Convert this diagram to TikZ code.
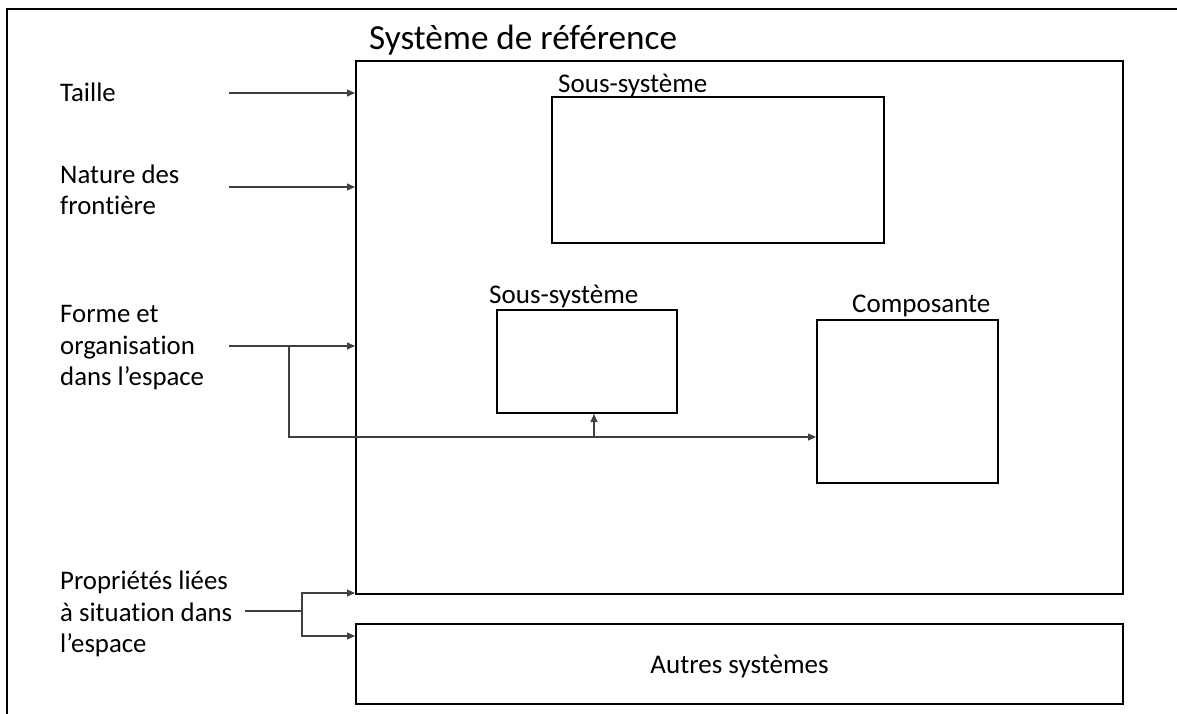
\documentclass[tikz,border=0pt]{standalone}
\usepackage{fontspec}
\setmainfont{Carlito}[Ligatures=NoCommon]
\usetikzlibrary{arrows.meta}
\tikzset{
  box/.style={draw=black, line width=2pt, inner sep=0pt, anchor=north west},
  conn/.style={draw=black!75, line width=1.1pt},
  arrowtip/.style={-{Triangle[length=8pt,width=7pt]}},
  lbl/.style={inner sep=0pt, align=left, font=\fontsize{26.8}{31.5}\selectfont},
  captxt/.style={inner sep=0pt, anchor=base west, font=\fontsize{27}{31}\selectfont},
}
\begin{document}
\begin{tikzpicture}[x=1pt,y=-1pt]
\useasboundingbox (0,0) rectangle (1177,713);
\fill[white] (0,0) rectangle (1177,713);
% outer frame (cropped)
\draw[line width=2pt] (7,760) -- (7,9) -- (1230,9);

% boxes
\node[box, minimum width=767pt, minimum height=533pt] (ref) at (355,60) {};
\node[box, minimum width=767pt, minimum height=80pt] (autres) at (355,623) {};
\node[box, minimum width=332pt, minimum height=146pt] (ss1) at (551,96) {};
\node[box, minimum width=180pt, minimum height=103pt] (ss2) at (496,309) {};
\node[box, minimum width=181pt, minimum height=163pt] (comp) at (816,319) {};

% captions
\node[inner sep=0pt, anchor=base west, font=\fontsize{35.2}{40}\selectfont] (tref) at (369,49) {Système de référence};
\node[captxt] (tss1) at (558,92) {Sous-système};
\node[captxt] (tss2) at (489,303) {Sous-système};
\node[captxt] (tcomp) at (852,312) {Composante};
\node[inner sep=0pt, anchor=base, font=\fontsize{27}{31}\selectfont] (tautres) at ([yshift=-9pt]autres.center) {Autres systèmes};

% left labels
\node[lbl, anchor=base west] (ltaille) at (60,101) {Taille};
\node[lbl, anchor=west] (lnature) at (60,190) {Nature des\\frontière};
\node[lbl, anchor=west] (lforme) at (60,348) {Forme et\\organisation\\dans l’espace};
\node[lbl, anchor=west] (lprop) at (60,614) {Propriétés liées\\à situation dans\\l’espace};

% connectors
\coordinate (a1) at (229,93);
\coordinate (a2) at (229,187);
\coordinate (a3) at (229,346);
\coordinate (b3) at (289,346);
\coordinate (c3) at (289,437);
\coordinate (d3) at (594,437);
\coordinate (p0) at (245,611);
\coordinate (p1) at (302,611);
\coordinate (p2) at (302,593);
\coordinate (p3) at (302,636);

\draw[conn, arrowtip] (a1) -- (a1 -| ref.west);
\draw[conn, arrowtip] (a2) -- (a2 -| ref.west);
\draw[conn, arrowtip] (a3) -- (a3 -| ref.west);
\draw[conn, arrowtip] (b3) -- (c3) -- (c3 -| comp.west);
\draw[conn, arrowtip] (d3) -- (d3 |- ss2.south);
\draw[conn] (p0) -- (p1);
\draw[conn, arrowtip] (p1) -- (p2) -- (p2 -| ref.west);
\draw[conn, arrowtip] (p1) -- (p3) -- (p3 -| autres.west);
\end{tikzpicture}
\end{document}
